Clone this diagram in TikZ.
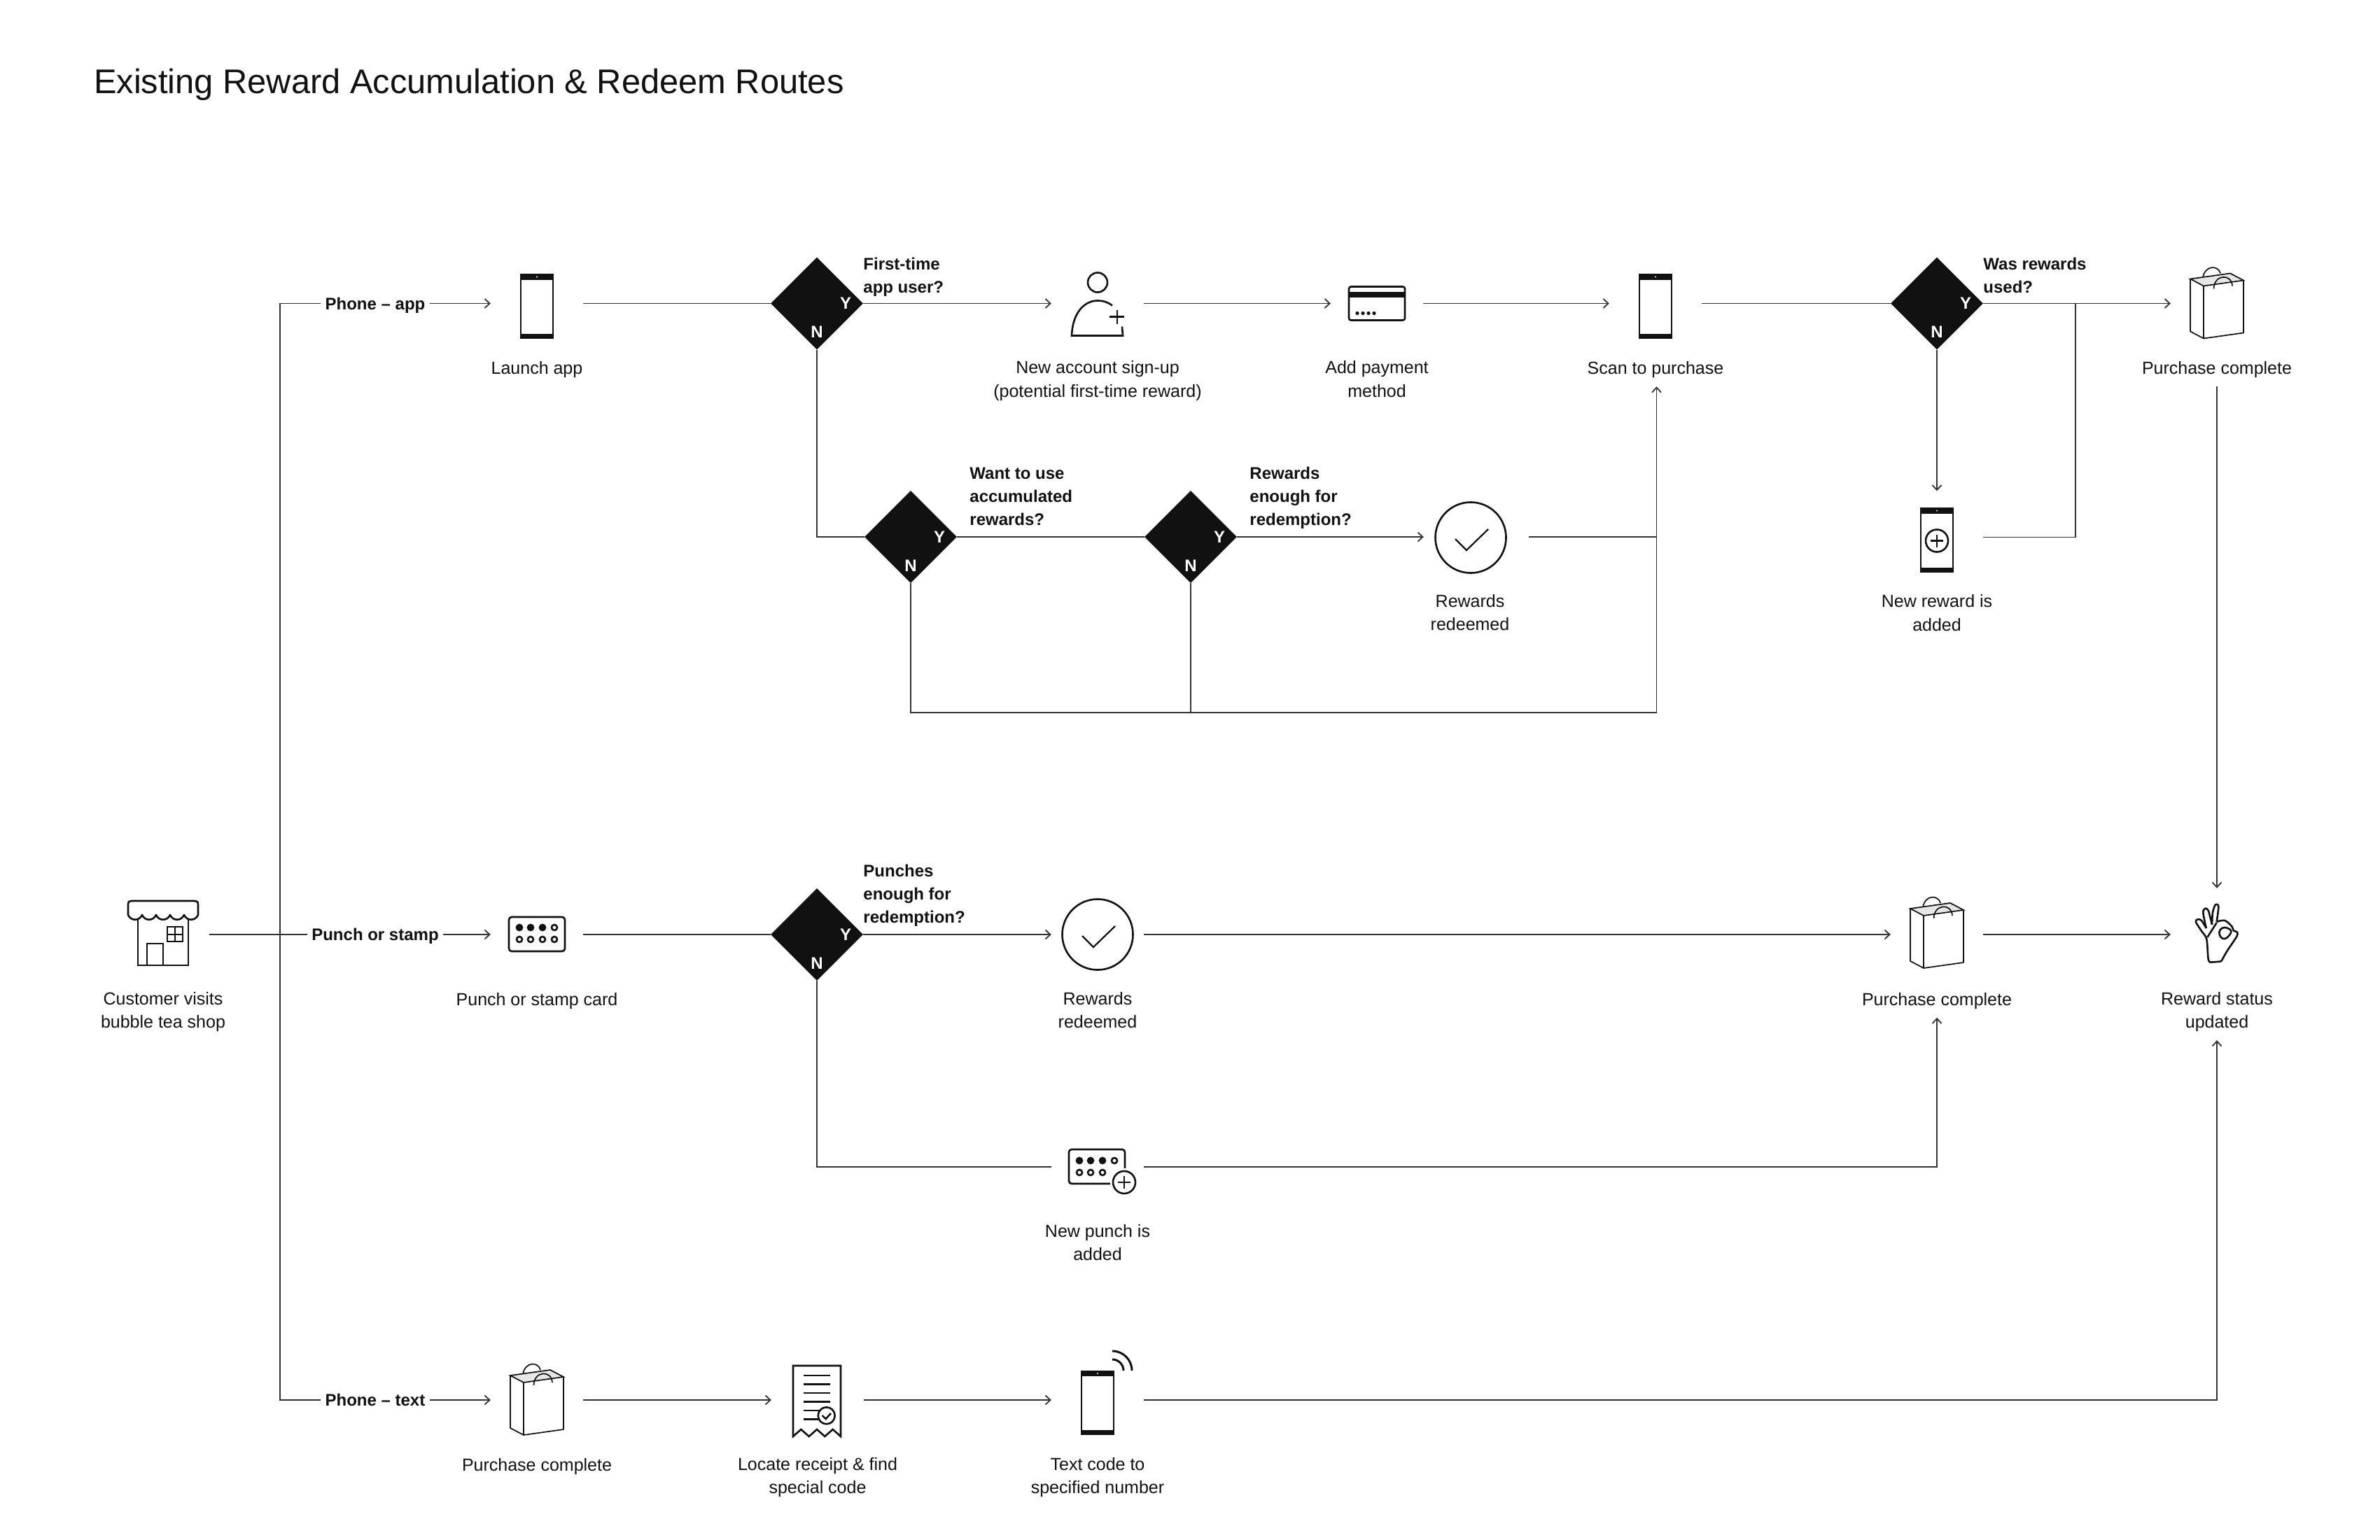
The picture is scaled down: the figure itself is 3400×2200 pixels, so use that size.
\documentclass[tikz,border=0pt]{standalone}
\usepackage{fontspec}
\setmainfont{Liberation Sans}
\usetikzlibrary{positioning,shapes.geometric,arrows.meta}
\definecolor{ink}{HTML}{111111}
\definecolor{wire}{HTML}{333333}
\definecolor{bagtop}{HTML}{E6E6E6}
\tikzset{
  flow/.style={line width=1.8pt,color=wire},
  icon/.style={line width=2.6pt,draw=ink},
  thinicon/.style={line width=1.7pt,draw=ink},
  spot/.style={minimum width=132pt,minimum height=132pt,inner sep=0pt},
  decision/.style={shape=diamond,aspect=1,fill=ink,minimum width=132pt,minimum height=132pt,inner sep=0pt,
    label={[answer,anchor=center,xshift=-25pt]0:Y},label={[answer,anchor=center,yshift=25pt]-90:N}},
  answer/.style={text=white,inner sep=0pt,font=\fontsize{24}{28}\selectfont\bfseries},
  caption/.style={align=center,anchor=north,yshift=-4.5pt,inner xsep=0pt,inner ysep=7pt,text=ink,
    font=\fontsize{25}{33.7}\selectfont,execute at begin node=\strut,execute at end node=\strut},
  twolines/.style={yshift=-4pt},
  query/.style={align=left,anchor=south west,inner sep=0pt,text=ink,
    font=\fontsize{24}{33.2}\selectfont\bfseries,execute at end node=\strut},
  route/.style={fill=white,inner xsep=6pt,inner ysep=0pt,text height=22pt,text depth=5pt,text=ink,font=\fontsize{24}{28}\selectfont\bfseries},
  phoneicon/.pic={
    \draw[icon] (-23,-41) rectangle (23,49);
    \fill[ink] (-24.3,-42) rectangle (24.3,-34);
    \fill[ink] (-24.3,43) rectangle (24.3,50);
    \fill[white] (0,-38) circle[radius=1.2];
  },
  plusmark/.pic={
    \draw[icon] (0,0) circle[radius=16];
    \draw[icon] (-9,0) -- (9,0) (0,-9) -- (0,9);
  },
  tickmark/.pic={
    \draw[icon] (0,0) circle[radius=50.5];
    \draw[line width=2.2pt,draw=ink] (-22,2) -- (-6,18) -- (25,-12);
  },
  bagicon/.pic={
    \draw[thinicon] (-20,-37) .. controls (-17,-55) and (2,-55) .. (5,-43);
    \filldraw[thinicon,fill=bagtop] (-38,-35) -- (19,-43) -- (38,-33) -- (-19,-25) -- cycle;
    \draw[thinicon,line join=round] (-38,-35) -- (-38,40) -- (-19,50) -- (38,42) -- (38,-33);
    \draw[thinicon] (-19,-25) -- (-19,50);
    \draw[thinicon] (-4.5,-21) .. controls (-4,-42) and (21,-43) .. (22,-25);
  },
  payicon/.pic={
    \draw[icon,rounded corners=3pt] (-40,-24) rectangle (40,24);
    \fill[ink] (-40,-17) rectangle (40,-9);
    \foreach \dotx in {-28,-20,-12,-4} \fill[ink] (\dotx,14) circle[radius=2.6];
  },
  personicon/.pic={
    \draw[icon] (0,-30) circle[radius=14];
    \draw[icon] (21,3) .. controls (16,-1) and (9,-4) .. (0,-4)
      .. controls (-20,-4) and (-36,15) .. (-37,46) -- (36,46) -- (35,33);
    \draw[icon] (17,19) -- (38,19) (28,9) -- (28,29);
  },
  shopicon/.pic={
    \draw[icon] (-36,-24) -- (-36,44) -- (36,44) -- (36,-24);
    \draw[icon] (-23,44) -- (-23,13) -- (0,13) -- (0,44);
    \draw[icon] (6,-11) rectangle (28,10) (17,-11) -- (17,10) (6,0) -- (28,0);
    \filldraw[icon,fill=white,line join=round] (-50,-28) -- (-50,-43) .. controls (-50,-47) and (-48,-48) .. (-45,-48)
      -- (45,-48) .. controls (48,-48) and (50,-47) .. (50,-43) -- (50,-28)
      \foreach \bump in {0,...,4} { .. controls ({50-20*\bump-4},-19) and ({50-20*\bump-16},-19) .. ({30-20*\bump},-28) } -- cycle;
  },
  punchicon/.pic={
    \draw[icon,rounded corners=4pt] (-40,-25) rectangle (40,24);
    \foreach \dotx in {-25,-9,8} \fill[ink] (\dotx,-10) circle[radius=5.4];
    \draw[icon] (25,-10) circle[radius=4];
    \foreach \dotx in {-25,-9,8,25} \draw[icon] (\dotx,7) circle[radius=4];
  },
  newpunchicon/.pic={
    \draw[icon,rounded corners=4pt] (-41,-25) rectangle (39,24);
    \foreach \dotx in {-26,-10,7} \fill[ink] (\dotx,-9) circle[radius=5.4];
    \draw[icon] (24,-9) circle[radius=4];
    \foreach \dotx in {-26,-10,7} \draw[icon] (\dotx,8) circle[radius=4];
    \fill[white] (38,22) circle[radius=20];
    \draw[icon] (38,22) circle[radius=16];
    \draw[icon] (29,22) -- (47,22) (38,13) -- (38,31);
  },
  receipticon/.pic={
    \draw[icon,line join=miter] (-35,52) -- (-35,-49) -- (33,-49) -- (33,52) -- (21.7,42) -- (10.3,52) -- (-1,42) -- (-12.3,52) -- (-23.7,42) -- cycle;
    \foreach \liney in {-35,-22.3,-10,2.7} \draw[icon] (-20,\liney) -- (18,\liney);
    \foreach \liney in {15,27.7} \draw[icon] (-20,\liney) -- (3,\liney);
    \filldraw[icon,fill=white] (12.7,22.3) circle[radius=12];
    \draw[icon] (6.6,22) -- (11.6,27) -- (19,19);
  },
  handicon/.pic={
    \draw[icon,line join=round] plot[smooth,tension=.5] coordinates {(6.3,38.3) (-5.3,39.3) (-12,36.7) (-14.7,6.7) (-22,-5) (-30.3,-18.3) (-27,-21.7) (-22,-20) (-15.3,-9)};
    \draw[icon] plot[smooth,tension=.5] coordinates {(-15.3,-9) (-19.7,-31.7) (-16.3,-37.3) (-12,-33.3) (-7,-14)};
    \draw[icon] plot[smooth,tension=.5] coordinates {(-7,-14) (-6,-31.7) (-2,-42.7) (2.3,-40) (-0.3,-18.3)};
    \draw[icon] plot[smooth,tension=.5] coordinates {(-0.3,-18.3) (11.3,-20) (21.3,-11.7) (23.7,-5.7) (29,-3.3) (28,3.3) (14.7,23.3) (6.3,38.3)};
    \draw[icon] (-0.3,-17) -- (-13.7,4);
    \draw[icon] plot[smooth cycle,tension=.7] coordinates {(4.7,-6.7) (11.3,-10) (20.3,-5) (14.7,4.3) (8,5.7) (3.7,0)};
  },
}
\begin{document}
\begin{tikzpicture}[x=1pt,y=-1pt,on grid,>={Straight Barb[length=7pt,width=13pt]}]
\useasboundingbox (0,0) rectangle (3400,2200);
\node[anchor=base west,inner sep=0pt,text=ink,font=\fontsize{48.8}{56}\selectfont] (heading) at (134,133) {Existing Reward Accumulation \& Redeem Routes};

% top route
\node[spot] (app) at (767,433.5) {};
\node[decision] (q_first) [right=400pt of app] {};
\node[spot] (signup) [right=401pt of q_first] {};
\node[spot] (payment) [right=399pt of signup] {};
\node[spot] (scan) [right=398pt of payment] {};
\node[decision] (q_used) [right=402pt of scan] {};
\node[spot] (bag_app) [right=400pt of q_used] {};
\node[spot] (new_reward) [below=334pt of q_used] {};
\node[decision] (q_use) at (1301,767) {};
\node[decision] (q_enough) [right=400pt of q_use] {};
\node[minimum width=150pt,minimum height=132pt,inner sep=0pt] (redeem_app) [right=408pt of q_enough] {};

% middle route
\node[spot] (shop) at (233,1335) {};
\node[spot] (card) at (767,1335) {};
\node[decision] (q_punch) [right=400pt of card] {};
\node[spot] (redeem_punch) [right=401pt of q_punch] {};
\node[spot] (bag_punch) [right=1199pt of redeem_punch] {};
\node[spot] (status) [right=400pt of bag_punch] {};
\node[spot] (new_punch) at (1568,1667) {};

% bottom route
\node[spot] (bag_text) at (767,2000) {};
\node[spot] (receipt) [right=401pt of bag_text] {};
\node[spot] (text_code) [right=400pt of receipt] {};

\coordinate (trunk_top) at (400,433.5);
\coordinate (trunk_end) at (400,2000);
\coordinate (join_used) at (2965,433.5);
\coordinate (loop_end) at (2366.5,1018);

\node[route] (route_app) at (536,433.5) {Phone – app};
\node[route] (route_stamp) at (536,1335) {Punch or stamp};
\node[route] (route_text) at (536,2000) {Phone – text};

\node[caption] (cap_app) at (app.south) {Launch app};
\node[caption,twolines] (cap_signup) at (signup.south) {New account sign-up\\(potential first-time reward)};
\node[caption,twolines] (cap_payment) at (payment.south) {Add payment\\method};
\node[caption] (cap_scan) at (scan.south) {Scan to purchase};
\node[caption] (cap_bag_app) at (bag_app.south) {Purchase complete};
\node[caption,twolines] (cap_new_reward) at (new_reward.south) {New reward is\\added};
\node[caption,twolines,xshift=-9pt] (cap_redeem_app) at (redeem_app.south) {Rewards\\redeemed};
\node[caption,twolines] (cap_shop) at (shop.south) {Customer visits\\bubble tea shop};
\node[caption] (cap_card) at (card.south) {Punch or stamp card};
\node[caption,twolines] (cap_redeem_punch) at (redeem_punch.south) {Rewards\\redeemed};
\node[caption] (cap_bag_punch) at (bag_punch.south) {Purchase complete};
\node[caption,twolines] (cap_status) at (status.south) {Reward status\\updated};
\node[caption,twolines] (cap_new_punch) at (new_punch.south) {New punch is\\added};
\node[caption] (cap_bag_text) at (bag_text.south) {Purchase complete};
\node[caption,twolines] (cap_receipt) at (receipt.south) {Locate receipt \& find\\special code};
\node[caption,twolines] (cap_text_code) at (text_code.south) {Text code to\\specified number};

\node[query,yshift=5pt] (ask_first) at (q_first.east) {First-time\\app user?};
\node[query,yshift=5pt] (ask_used) at (q_used.east) {Was rewards\\used?};
\node[query,xshift=18pt,yshift=6pt] (ask_use) at (q_use.east) {Want to use\\accumulated\\rewards?};
\node[query,xshift=18pt,yshift=6pt] (ask_enough) at (q_enough.east) {Rewards\\enough for\\redemption?};
\node[query,yshift=6pt] (ask_punch) at (q_punch.east) {Punches\\enough for\\redemption?};

\pic at (app) {phoneicon};
\pic at (scan) {phoneicon};
\pic at (new_reward) {phoneicon};
\pic[yshift=-5pt] at (new_reward) {plusmark};
\pic at (text_code) {phoneicon};
\draw[line width=3pt,draw=ink] (text_code)++(21,-70) arc[start angle=-90,end angle=0,radius=28];
\draw[line width=3pt,draw=ink] (text_code)++(21,-58) arc[start angle=-90,end angle=0,radius=16];
\pic at (signup) {personicon};
\pic at (payment) {payicon};
\pic[xshift=-8pt,yshift=-1pt] at (redeem_app) {tickmark};
\pic at (redeem_punch) {tickmark};
\pic at (bag_app) {bagicon};
\pic[yshift=2pt] at (bag_punch) {bagicon};
\pic at (bag_text) {bagicon};
\pic at (shop) {shopicon};
\pic at (card) {punchicon};
\pic at (new_punch) {newpunchicon};
\pic at (receipt) {receipticon};
\pic at (status) {handicon};

\path[flow,->]
  (route_app) edge (app)
  (route_stamp) edge (card)
  (route_text) edge (bag_text)
  (q_first) edge (signup)
  (signup) edge (payment)
  (payment) edge (scan)
  (q_used) edge (bag_app)
  (q_used) edge (new_reward)
  (q_enough) edge (redeem_app)
  (q_punch) edge (redeem_punch)
  (redeem_punch) edge (bag_punch)
  (bag_punch) edge (status)
  (bag_text) edge (receipt)
  (receipt) edge (text_code)
  (cap_bag_app) edge (status)
  (new_punch) edge [to path={-| (\tikztotarget)}] (cap_bag_punch)
  (text_code) edge [to path={-| (\tikztotarget)}] (cap_status)
  ;
\path[flow]
  (app) edge (q_first)
  (scan) edge (q_used)
  (q_use) edge (q_enough)
  (shop) edge (route_stamp)
  (card) edge (q_punch)
  (redeem_app) edge (redeem_app -| loop_end)
  (new_reward) edge [to path={-| (\tikztotarget)}] (join_used)
  (q_first) edge [to path={|- (\tikztotarget)}] (q_use)
  (q_punch) edge [to path={|- (\tikztotarget)}] (new_punch)
  (q_enough) edge (q_enough |- loop_end)
  ;
\draw[flow] (route_app) -- (trunk_top) -- (trunk_end) -- (route_text);
\draw[flow,->] (q_use) |- (loop_end) -- (loop_end |- cap_scan.south);
\end{tikzpicture}
\end{document}
